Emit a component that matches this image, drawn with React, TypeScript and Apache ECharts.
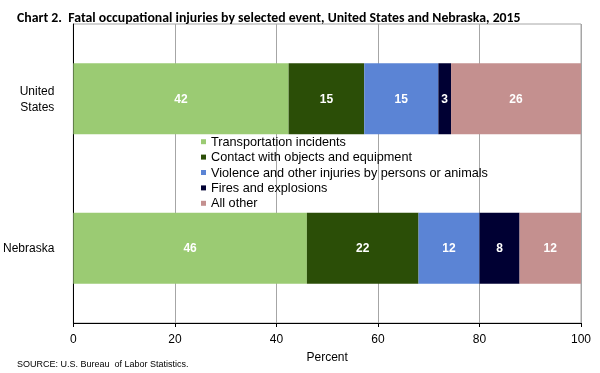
import React, { useEffect, useRef } from "react";
import * as echarts from "echarts";

const categories = ["United States", "Nebraska"];
const seriesNames = [
  "Transportation incidents",
  "Contact with objects and equipment",
  "Violence and other injuries by persons or animals",
  "Fires and explosions",
  "All other",
];
const transportation = [42.4, 46.0];
const contact = [14.9, 22.0];
const violence = [14.6, 12.0];
const fires = [2.5, 7.9];
const allOther = [25.6, 12.1];
const colors = ["#9BCB73", "#2B4E07", "#5B84D5", "#000033", "#C4908F"];
const xTicks = [0, 20, 40, 60, 80, 100];

export default function App() {
  const ref = useRef<HTMLDivElement>(null);
  useEffect(() => {
    if (!ref.current) return;
    const chart = echarts.init(ref.current, undefined, { renderer: "svg" });
    const values = [transportation, contact, violence, fires, allOther];
    chart.setOption({
      animation: false,
      textStyle: { fontFamily: "Liberation Sans, Arial, sans-serif" },
      title: [
        {
          text: "Chart 2.  Fatal occupational injuries by selected event, United States and Nebraska, 2015",
          left: 12,
          top: 5,
          textStyle: {
            fontFamily: "Carlito, Lato, sans-serif",
            fontWeight: "bold",
            fontSize: 13.8,
            color: "#000",
          },
        },
        {
          text: "SOURCE: U.S. Bureau  of Labor Statistics.",
          left: 12,
          top: 354,
          textStyle: {
            fontFamily: "Liberation Sans, Arial, sans-serif",
            fontWeight: "normal",
            fontSize: 9,
            color: "#000",
          },
        },
      ],
      legend: {
        orient: "vertical",
        left: 196,
        top: 129,
        icon: "rect",
        itemWidth: 5,
        itemHeight: 5,
        itemGap: 0,
        data: seriesNames,
        textStyle: {
          fontFamily: "Liberation Sans, Arial, sans-serif",
          fontSize: 12.7,
          lineHeight: 15.4,
          color: "#000",
        },
      },
      grid: {
        left: 72,
        right: 19,
        top: 24,
        bottom: 50,
        show: true,
        borderColor: "#A6A6A6",
        borderWidth: 1,
      },
      xAxis: {
        type: "value",
        min: xTicks[0],
        max: xTicks[xTicks.length - 1],
        interval: 20,
        name: "Percent",
        nameLocation: "middle",
        nameGap: 28,
        nameTextStyle: { fontSize: 12, color: "#000" },
        axisLine: { show: true, lineStyle: { color: "#000", width: 1 } },
        axisTick: { show: true, length: 4, lineStyle: { color: "#000" } },
        axisLabel: { fontSize: 12, color: "#000", margin: 10 },
        splitLine: { show: true, lineStyle: { color: "#A6A6A6", width: 1 } },
      },
      yAxis: {
        type: "category",
        inverse: true,
        data: categories,
        axisLine: { show: true, lineStyle: { color: "#000", width: 1 } },
        axisTick: { show: false },
        splitLine: { show: false },
        axisLabel: {
          fontSize: 12,
          color: "#000",
          margin: 19,
          lineHeight: 15.5,
          formatter: (v: string) => v.replace(" ", "\n"),
        },
      },
      series: seriesNames.map((name, i) => ({
        name,
        type: "bar",
        stack: "total",
        barCategoryGap: "52.5%",
        itemStyle: { color: colors[i] },
        label: {
          show: true,
          position: "inside",
          color: "#fff",
          fontWeight: "bold",
          fontSize: 12,
          formatter: (p: any) => String(Math.round(p.value)),
        },
        data: values[i],
      })),
    });
    return () => chart.dispose();
  }, []);
  return (
    <div
      ref={ref}
      style={{ position: "fixed", left: 0, top: 0, width: 600, height: 373 }}
    />
  );
}
